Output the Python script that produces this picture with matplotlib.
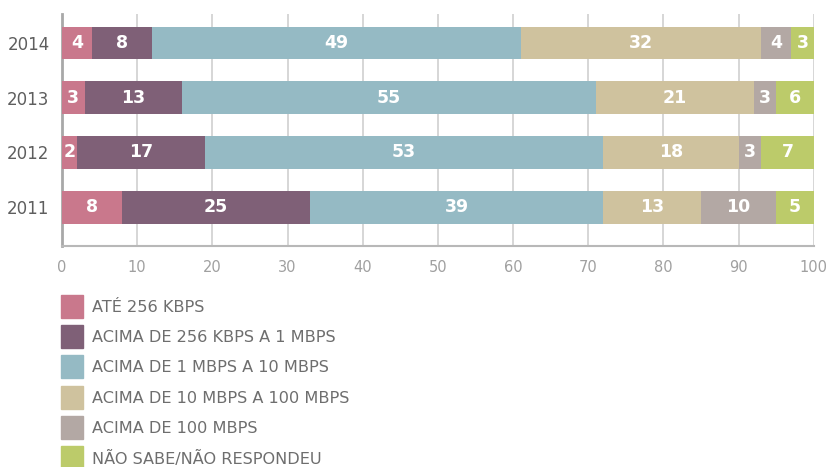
import matplotlib
matplotlib.use("Agg")
import matplotlib.pyplot as plt
from matplotlib.patches import Rectangle
import numpy as np

plt.rcParams['font.family'] = ['DejaVu Sans']

# Dados: percentual por faixa de velocidade, por ano
anos = ['2011', '2012', '2013', '2014']
ate_256k = [8, 2, 3, 4]
de_256k_1m = [25, 17, 13, 8]
de_1m_10m = [39, 53, 55, 49]
de_10m_100m = [13, 18, 21, 32]
acima_100m = [10, 3, 3, 4]
nao_sabe = [5, 7, 6, 3]

series = [ate_256k, de_256k_1m, de_1m_10m, de_10m_100m, acima_100m, nao_sabe]
rotulos = ['ATÉ 256 KBPS', 'ACIMA DE 256 KBPS A 1 MBPS', 'ACIMA DE 1 MBPS A 10 MBPS',
           'ACIMA DE 10 MBPS A 100 MBPS', 'ACIMA DE 100 MBPS', 'NÃO SABE/NÃO RESPONDEU']
cores = ['#C9788C', '#7F6077', '#95BAC4', '#CFC29E', '#B3A8A4', '#BCCB6A']

fig = plt.figure(figsize=(8.27, 4.67), dpi=100)
ax = fig.add_axes([0.075, 0.4732, 0.909, 0.4968])

y = np.arange(len(anos))
esquerda = np.zeros(len(anos))
for vals, cor in zip(series, cores):
    vals = np.array(vals, dtype=float)
    ax.barh(y, vals, left=esquerda, height=0.6, color=cor, zorder=3)
    for yi, (l, v) in enumerate(zip(esquerda, vals)):
        cx = (l + min(l + v, 100)) / 2
        ax.text(cx, yi, f'{int(v)}', ha='center', va='center',
                color='white', fontsize=12.5, fontweight='semibold', zorder=4)
    esquerda += vals

ax.set_xlim(0, 100)
ax.set_ylim(-0.71, 3.53)
ax.set_yticks(y)
ax.set_yticklabels(anos, fontsize=12, color='#5E5E5E')
ax.set_xticks(np.arange(0, 101, 10))
ax.set_xticklabels([str(v) for v in range(0, 101, 10)], fontsize=10.5, color='#A0A0A0')
ax.tick_params(axis='x', length=0, pad=10)
ax.tick_params(axis='y', length=0, pad=9)
ax.xaxis.grid(True, color='#CFCFCF', linewidth=1.2, zorder=0)
ax.yaxis.grid(False)
for s in ['top', 'right']:
    ax.spines[s].set_visible(False)
ax.spines['left'].set_color('#A8A8A8')
ax.spines['left'].set_linewidth(2)
ax.spines['bottom'].set_color('#B8B8B8')
ax.spines['bottom'].set_linewidth(1.5)

# Legenda manual em coordenadas da figura
W, H = 827, 467
for i, (rot, cor) in enumerate(zip(rotulos, cores)):
    top = 295 + i * 30.2
    fig.add_artist(Rectangle((61 / W, 1 - (top + 23) / H), 22 / W, 23 / H,
                             transform=fig.transFigure, color=cor))
    fig.text(92 / W, 1 - (top + 12.5) / H, rot, ha='left', va='center',
             fontsize=11.6, color='#6E6E6E')

fig.savefig('out.png', dpi=100)
